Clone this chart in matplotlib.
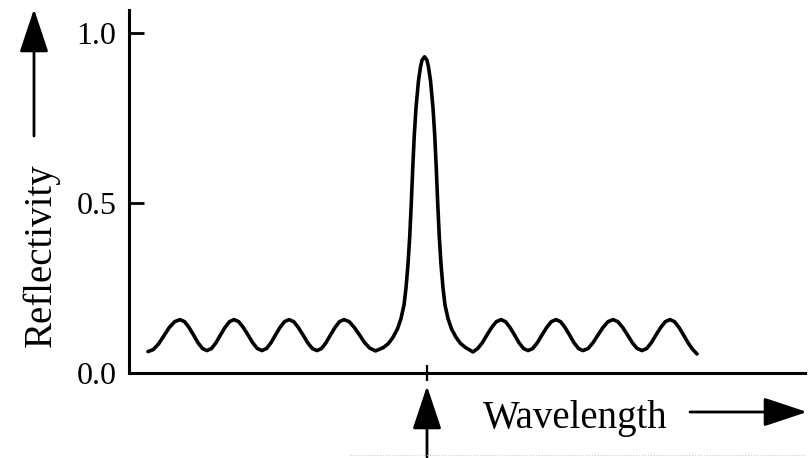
import matplotlib
matplotlib.use('Agg')
import matplotlib.pyplot as plt
from matplotlib.patches import FancyArrowPatch
from matplotlib.lines import Line2D

plt.rcParams['font.family'] = ['Liberation Serif', 'DejaVu Serif']

# wavelength offset from the Bragg wavelength (arb. units)
wl = [-279, -273.7, -268.3, -263, -257.7, -252.3, -247,
      -242.5, -238, -233.5, -229, -224.5, -220,
      -215.5, -211, -206.5, -202, -197.5, -193,
      -188.3, -183.7, -179, -174.3, -169.7, -165,
      -160.5, -156, -151.5, -147, -142.5, -138,
      -133.3, -128.7, -124, -119.3, -114.7, -110,
      -105.5, -101, -96.5, -92, -87.5, -83,
      -77.8, -72.7, -67.5, -62.3, -57.2,
      # main peak
      -51.5, -43.5, -38.5, -34, -29.5, -26, -23, -21, -19, -17.3,
      -15.7, -14.3, -12.7, -11, -8.5, -6.5, -5, -2.5,
      0, 1.5, 3.5, 6, 7.7, 9.3, 10.7, 12.3, 14, 16,
      18, 21, 24.5, 29, 33.5, 38.5,
      # right side lobes
      46,
      50.7, 55.3, 60, 64.7, 69.3, 74,
      78.5, 83, 87.5, 92, 96.5, 101,
      105.7, 110.3, 115, 119.7, 124.3, 129,
      133.5, 138, 142.5, 147, 151.5, 156,
      161, 166, 171, 176, 181, 186,
      190.8, 195.7, 200.5, 205.3, 210.2, 215,
      219.7, 224.3, 229, 233.7, 238.3, 243,
      247.5, 252, 256.5, 261, 265.5, 270]

# reflectivity
refl = [0.063, 0.069, 0.086, 0.110, 0.134, 0.151, 0.157,
        0.151, 0.134, 0.112, 0.089, 0.072, 0.066,
        0.072, 0.089, 0.112, 0.134, 0.151, 0.157,
        0.151, 0.134, 0.112, 0.089, 0.072, 0.066,
        0.072, 0.089, 0.112, 0.134, 0.151, 0.157,
        0.151, 0.134, 0.112, 0.089, 0.072, 0.066,
        0.072, 0.089, 0.112, 0.134, 0.151, 0.157,
        0.151, 0.134, 0.112, 0.089, 0.073,
        0.065, 0.075, 0.087, 0.105, 0.13, 0.16, 0.20, 0.25, 0.32, 0.40,
        0.50, 0.60, 0.70, 0.78, 0.86, 0.90, 0.92, 0.93,
        0.92, 0.90, 0.86, 0.78, 0.70, 0.60, 0.50, 0.40, 0.32, 0.25,
        0.20, 0.16, 0.13, 0.105, 0.087, 0.075,
        0.062,
        0.072, 0.089, 0.112, 0.134, 0.151, 0.157,
        0.151, 0.134, 0.112, 0.089, 0.072, 0.066,
        0.072, 0.089, 0.112, 0.134, 0.151, 0.157,
        0.151, 0.134, 0.112, 0.089, 0.072, 0.066,
        0.072, 0.089, 0.112, 0.134, 0.151, 0.157,
        0.151, 0.134, 0.112, 0.089, 0.072, 0.066,
        0.072, 0.089, 0.112, 0.134, 0.151, 0.157,
        0.151, 0.134, 0.112, 0.089, 0.070, 0.056]

yticks = [0.0, 0.5, 1.0]
ytick_labels = ['0.0', '0.5', '1.0']

W, H = 812, 458


def fx(px):
    return px / W


def fy(py):
    return 1 - py / H


fig = plt.figure(figsize=(W / 100, H / 100), dpi=100)
ax = fig.add_axes([fx(129), fy(373), 676 / W, 363 / H])

ax.plot(wl, refl, color='k', linewidth=2.6, solid_capstyle='round', solid_joinstyle='round')

ax.set_xlim(-298, 378)
ax.set_ylim(0, 363 / 340)

for s in ['top', 'right']:
    ax.spines[s].set_visible(False)
for s in ['left', 'bottom']:
    ax.spines[s].set_linewidth(2.2)

ax.set_yticks(yticks)
ax.set_yticklabels(ytick_labels)
ax.tick_params(axis='y', direction='in', length=11, width=2, labelsize=23, pad=9)
ax.set_xticks([0])
ax.set_xticklabels([''])
ax.tick_params(axis='x', direction='inout', length=12, width=1.6)

# axis labels with arrows
fig.text(fx(41), fy(255), 'Reflectivity', rotation=90, ha='center', va='center', fontsize=28)
fig.text(fx(483), fy(428), 'Wavelength', ha='left', va='baseline', fontsize=28)


def arrow(p0, p1):
    a = FancyArrowPatch((fx(p0[0]), fy(p0[1])), (fx(p1[0]), fy(p1[1])),
                        transform=fig.transFigure, arrowstyle='-|>,head_length=27,head_width=9',
                        mutation_scale=1, color='k', linewidth=2, shrinkA=0, shrinkB=0)
    fig.patches.append(a)


arrow((34, 136), (34, 9))
arrow((690, 412), (807, 412))
arrow((427, 457), (427, 386))

fig.lines.append(Line2D([fx(350), fx(805)], [fy(455), fy(455)], transform=fig.transFigure,
                        color='#c5cde0', linewidth=0.8, linestyle=':'))

fig.savefig('out.png', dpi=100)
